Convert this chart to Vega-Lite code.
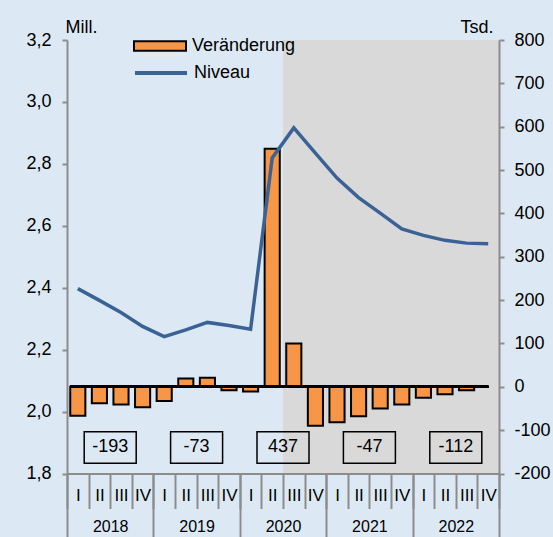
{
  "$schema": "https://vega.github.io/schema/vega-lite/v6.json",
  "autosize": {"type": "none"},
  "width": 432,
  "height": 433.5,
  "padding": {"left": 67, "top": 40, "right": 54, "bottom": 63.5},
  "background": "#DCE9F5",
  "config": {
    "font": "Liberation Sans",
    "view": {"stroke": null},
    "axis": {"labelColor": "black", "titleColor": "black", "grid": false}
  },
  "datasets": {
    "quarters": [
      {"q": "2018 I", "change": -67, "level": 2.397},
      {"q": "2018 II", "change": -38, "level": 2.359},
      {"q": "2018 III", "change": -41, "level": 2.320},
      {"q": "2018 IV", "change": -47, "level": 2.275},
      {"q": "2019 I", "change": -33, "level": 2.242},
      {"q": "2019 II", "change": 19, "level": 2.264},
      {"q": "2019 III", "change": 21, "level": 2.288},
      {"q": "2019 IV", "change": -8, "level": 2.278},
      {"q": "2020 I", "change": -11, "level": 2.266},
      {"q": "2020 II", "change": 549, "level": 2.819},
      {"q": "2020 III", "change": 100, "level": 2.916},
      {"q": "2020 IV", "change": -90, "level": 2.835},
      {"q": "2021 I", "change": -82, "level": 2.754},
      {"q": "2021 II", "change": -68, "level": 2.691},
      {"q": "2021 III", "change": -50, "level": 2.641},
      {"q": "2021 IV", "change": -41, "level": 2.590},
      {"q": "2022 I", "change": -25, "level": 2.569},
      {"q": "2022 II", "change": -17, "level": 2.553},
      {"q": "2022 III", "change": -8, "level": 2.544},
      {"q": "2022 IV", "change": null, "level": 2.542}
    ],
    "years": [
      {"year": "2018", "sum": "-193"},
      {"year": "2019", "sum": "-73"},
      {"year": "2020", "sum": "437"},
      {"year": "2021", "sum": "-47"},
      {"year": "2022", "sum": "-112"}
    ]
  },
  "layer": [
    {
      "data": {"name": "quarters"},
      "layer": [
        {
          "mark": {"type": "rect", "fill": "#D9D9D9"},
          "encoding": {
            "x": {"datum": "2020 III", "type": "nominal", "bandPosition": 0,
              "scale": {"domain": ["2018 I","2018 II","2018 III","2018 IV","2019 I","2019 II","2019 III","2019 IV","2020 I","2020 II","2020 III","2020 IV","2021 I","2021 II","2021 III","2021 IV","2022 I","2022 II","2022 III","2022 IV"], "paddingInner": 0, "paddingOuter": 0},
              "axis": {"orient": "bottom", "title": null, "tickBand": "extent", "tickSize": 35, "tickWidth": 2, "tickColor": "#8C8C8C", "domainColor": "#8C8C8C", "domainWidth": 2, "labelFontSize": 17, "labelPadding": -21, "labelAngle": 0, "labelOverlap": false, "labelFlush": false, "labelExpr": "split(datum.label, ' ')[1]", "zindex": 1}},
            "x2": {"datum": "2022 IV", "bandPosition": 1},
            "y": {"datum": 1.8, "type": "quantitative", "scale": {"domain": [1.8, 3.2], "nice": false, "zero": false}, "axis": null},
            "y2": {"datum": 3.2}
          }
        },
        {
          "layer": [
            {
              "mark": {"type": "bar", "stroke": "black", "strokeWidth": 2, "width": {"band": 0.7}},
              "encoding": {
                "x": {"field": "q", "type": "nominal", "sort": null},
                "y": {"field": "change", "type": "quantitative",
                  "scale": {"domain": [-200, 800], "nice": false},
                  "axis": {"orient": "right", "title": "Tsd.", "titleAngle": 0, "titleAlign": "right", "titleBaseline": "middle", "titleX": -6, "titleY": -13, "titleFontSize": 18, "titleFontWeight": "normal", "values": [-200,-100,0,100,200,300,400,500,600,700,800], "labelExpr": "datum.value + ''", "labelFontSize": 18, "labelPadding": 10, "tickSize": 5, "tickWidth": 2, "tickColor": "#8C8C8C", "domainColor": "#8C8C8C", "domainWidth": 2, "zindex": 1}},
                "fill": {"datum": "Veränderung", "scale": {"range": ["#F79646"]},
                  "legend": {"title": null, "orient": "none", "legendX": 66, "legendY": -21, "padding": 0, "symbolType": "M-1,-0.18H1V0.18H-1Z", "symbolSize": 2704, "symbolStrokeColor": "black", "symbolStrokeWidth": 2, "symbolOpacity": 1, "labelFontSize": 18, "labelColor": "black", "labelOffset": 5}}
              }
            },
            {
              "mark": {"type": "rule", "color": "black", "strokeWidth": 2},
              "encoding": {
                "x": {"datum": "2018 I", "bandPosition": 0.15},
                "x2": {"datum": "2022 IV", "bandPosition": 0.5},
                "y": {"datum": 0, "type": "quantitative"}
              }
            }
          ]
        },
        {
          "mark": {"type": "line", "strokeWidth": 3.5},
          "encoding": {
            "x": {"field": "q", "type": "nominal", "sort": null},
            "y": {"field": "level", "type": "quantitative",
              "scale": {"domain": [1.8, 3.2], "nice": false, "zero": false},
              "axis": {"orient": "left", "title": "Mill.", "titleAngle": 0, "titleAlign": "left", "titleBaseline": "middle", "titleX": -2, "titleY": -13, "titleFontSize": 18, "titleFontWeight": "normal", "values": [1.8, 2, 2.2, 2.4, 2.6, 2.8, 3, 3.2], "labelExpr": "replace(format(datum.value, '.1f'), '.', ',')", "labelFontSize": 18, "labelPadding": 11, "tickSize": 5, "tickWidth": 2, "tickColor": "#8C8C8C", "domainColor": "#8C8C8C", "domainWidth": 2, "zindex": 1}},
            "stroke": {"datum": "Niveau", "scale": {"range": ["#3A6295"]},
              "legend": {"title": null, "orient": "none", "legendX": 66, "legendY": 5, "padding": 0, "symbolType": "stroke", "symbolSize": 2704, "symbolStrokeWidth": 4, "labelFontSize": 18, "labelColor": "black", "labelOffset": 5}}
          }
        }
      ],
      "resolve": {"scale": {"y": "independent"}, "axis": {"y": "independent"}}
    },
    {
      "data": {"name": "years"},
      "layer": [
        {
          "mark": {"type": "bar", "fill": "transparent", "stroke": "black", "strokeWidth": 1.5, "width": 52},
          "encoding": {
            "x": {"field": "year", "type": "nominal",
              "scale": {"paddingInner": 0, "paddingOuter": 0},
              "axis": {"orient": "bottom", "title": null, "tickBand": "extent", "tickSize": 64, "tickWidth": 2, "tickColor": "#8C8C8C", "domain": false, "labelFontSize": 16, "labelPadding": -19, "labelAngle": 0, "zindex": 1}},
            "y": {"datum": 1.833, "type": "quantitative", "scale": {"domain": [1.8, 3.2], "nice": false, "zero": false}, "axis": null},
            "y2": {"datum": 1.935}
          }
        },
        {
          "mark": {"type": "text", "fontSize": 18, "color": "black", "baseline": "middle"},
          "encoding": {
            "x": {"field": "year", "type": "nominal"},
            "y": {"datum": 1.884, "type": "quantitative"},
            "text": {"field": "sum", "type": "nominal"}
          }
        }
      ]
    }
  ],
  "resolve": {"scale": {"x": "independent", "y": "independent"}, "axis": {"x": "independent", "y": "independent"}}
}
